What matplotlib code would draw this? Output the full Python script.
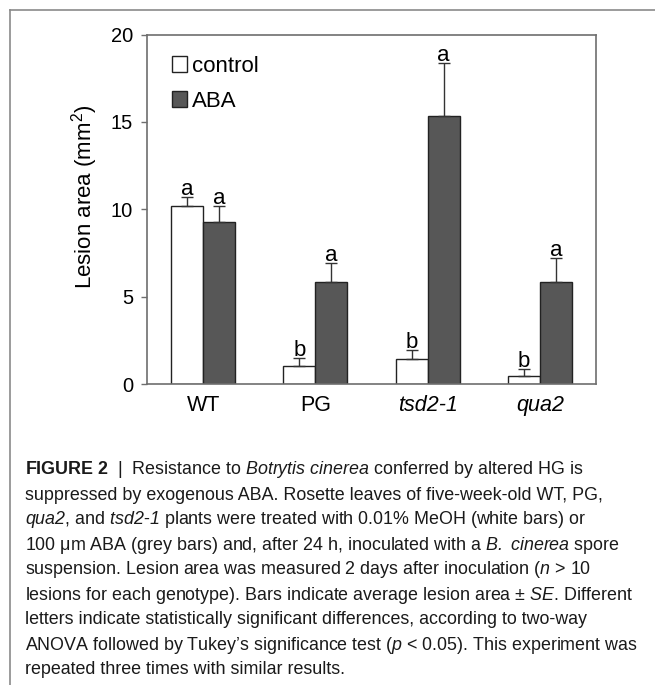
import matplotlib
matplotlib.use("Agg")
import matplotlib.pyplot as plt
from matplotlib.lines import Line2D
from matplotlib.patches import Patch
import numpy as np

plt.rcParams['font.family'] = ['Liberation Sans', 'DejaVu Sans']
plt.rcParams['mathtext.fontset'] = 'custom'
plt.rcParams['mathtext.rm'] = 'Liberation Sans'
plt.rcParams['mathtext.it'] = 'Liberation Sans:italic'
plt.rcParams['mathtext.sf'] = 'Liberation Sans:italic'   # italic incl. digits
plt.rcParams['mathtext.bf'] = 'Liberation Sans:bold'

# data
genotypes = ['WT', 'PG', 'tsd2-1', 'qua2']
control = [10.2, 1.05, 1.45, 0.45]
control_se = [0.5, 0.45, 0.48, 0.39]
aba = [9.27, 5.85, 15.33, 5.85]
aba_se = [0.93, 1.05, 3.02, 1.35]
control_letters = ['a', 'b', 'b', 'b']
aba_letters = ['a', 'a', 'a', 'a']

caption = [
    r"$\mathbf{FIGURE\ 2}$  |  Resistance to $\mathsf{Botrytis}$ $\mathsf{cinerea}$ conferred by altered HG is",
    r"suppressed by exogenous ABA. Rosette leaves of five-week-old WT, PG,",
    r"$\mathsf{qua2}$, and $\mathsf{tsd2}$-$\mathsf{1}$ plants were treated with 0.01% MeOH (white bars) or",
    r"100 μm ABA (grey bars) and, after 24 h, inoculated with a $\mathsf{B.}$ $\mathsf{cinerea}$ spore",
    r"suspension. Lesion area was measured 2 days after inoculation ($\mathsf{n}$ > 10",
    r"lesions for each genotype). Bars indicate average lesion area ± $\mathsf{SE}$. Different",
    r"letters indicate statistically significant differences, according to two-way",
    r"ANOVA followed by Tukey’s significance test ($\mathsf{p}$ < 0.05). This experiment was",
    r"repeated three times with similar results.",
]

W, H = 655, 685
fig = plt.figure(figsize=(W / 100, H / 100), dpi=100)

# panel frame (only left and top edges visible in the crop)
fx, fy = 9.5 / W, 1 - 9.5 / H
fig.add_artist(Line2D([fx, fx], [0, fy], transform=fig.transFigure, color='#8a8a8a', lw=1.2))
fig.add_artist(Line2D([fx, 1], [fy, fy], transform=fig.transFigure, color='#8a8a8a', lw=1.2))

ax = fig.add_axes([147 / W, (H - 384) / H, 449 / W, (384 - 34.5) / H])

x = np.arange(len(genotypes))
w = 0.285
ekw = dict(ecolor='#333333', elinewidth=1, capsize=4, capthick=1)
ax.bar(x - w / 2, control, w, color='white', edgecolor='#222222', linewidth=1,
       yerr=[np.zeros(len(x)), control_se], error_kw=ekw, zorder=2)
ax.bar(x + w / 2, aba, w, color='#575757', edgecolor='#222222', linewidth=1,
       yerr=[np.zeros(len(x)), aba_se], error_kw=ekw, zorder=2)

for i in range(len(x)):
    ax.text(x[i] - w / 2, control[i] + control_se[i] + 0.12, control_letters[i],
            ha='center', va='baseline', fontsize=16)
    ax.text(x[i] + w / 2, aba[i] + aba_se[i] + 0.12, aba_letters[i],
            ha='center', va='baseline', fontsize=16)

ax.set_xlim(-0.5, 3.5)
ax.set_ylim(0, 20)
ax.set_yticks([0, 5, 10, 15, 20])
ax.set_xticks(x)
ax.set_xticklabels(genotypes)
for lab in ax.get_xticklabels()[2:]:
    lab.set_fontstyle('italic')

for s in ax.spines.values():
    s.set_color('#6e6e6e')
    s.set_linewidth(1.2)
ax.tick_params(axis='y', direction='out', length=4.5, width=1, color='#6e6e6e',
               labelsize=14.5, pad=5.5)
ax.tick_params(axis='x', length=0, labelsize=15.5, pad=8)

ax.set_ylabel('Lesion area (mm$^2$)', fontsize=16)
ax.yaxis.set_label_coords(-0.104, 0.535)

handles = [Patch(facecolor='white', edgecolor='#222222', lw=1),
           Patch(facecolor='#575757', edgecolor='#222222', lw=1)]
ax.legend(handles, ['control', 'ABA'], loc='upper left', bbox_to_anchor=(0.055, 0.938),
          frameon=False, handlelength=0.68, handleheight=0.72, handletextpad=0.22,
          labelspacing=0.6, borderpad=0, borderaxespad=0, fontsize=16)

# caption below the chart
for k, line in enumerate(caption):
    fig.text(25 / W, 1 - (474.5 + 25 * k) / H, line, fontsize=12.9, color='#1a1a1a',
             ha='left', va='baseline')

fig.savefig('out.png', dpi=100)
